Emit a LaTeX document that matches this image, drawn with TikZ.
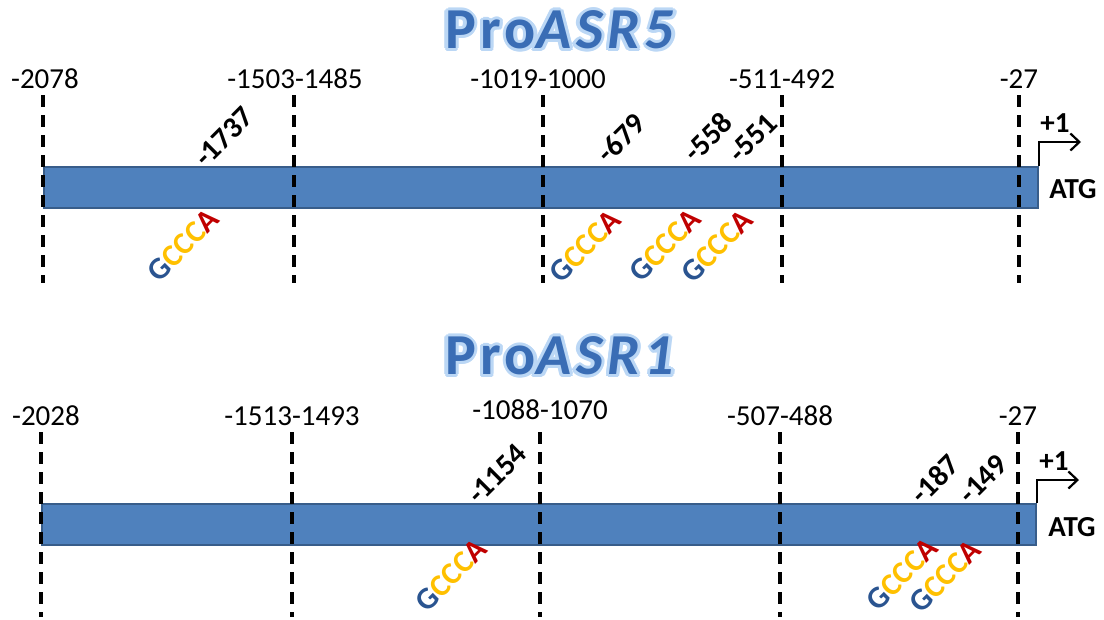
\documentclass[tikz,border=0pt]{standalone}
\usepackage{fontspec}
\setmainfont{Carlito}
\usetikzlibrary{arrows.meta,calc}
\definecolor{barfill}{HTML}{4F81BD}
\definecolor{barline}{HTML}{385D8A}
\definecolor{gblue}{HTML}{2A5490}
\definecolor{cyel}{HTML}{FFC000}
\definecolor{ared}{HTML}{C00000}
\definecolor{titleblue}{HTML}{3A6DB5}
\definecolor{glowblue}{HTML}{BBD7F5}
\newcommand{\gccca}{\textcolor{gblue}{G}\textcolor{cyel}{CCC}\textcolor{ared}{A}}
\newcommand{\titletext}[1]{\fontsize{58}{62}\selectfont\bfseries\addfontfeatures{LetterSpace=8}Pro\textit{#1}}
\tikzset{
  bar/.style={draw=barline, fill=barfill, line width=2pt},
  dashline/.style={line width=3.2pt, dash pattern=on 12pt off 8pt},
  poslabel/.style={font=\fontsize{29}{31}\selectfont, inner sep=0pt},
  site/.style={font=\fontsize{30}{32}\selectfont\bfseries, rotate=45, inner sep=0pt},
  motif/.style={font=\fontsize{31}{33}\selectfont\bfseries, rotate=45, inner sep=0pt},
  bold24/.style={font=\fontsize{29}{31}\selectfont\bfseries, inner sep=0pt},
  glow/.style={text=glowblue, inner sep=0pt},
  tss/.style={line width=2.2pt, -{Straight Barb[length=9pt,width=17pt,line width=2.2pt]}},
}
\begin{document}
\begin{tikzpicture}[x=1pt,y=-1pt]
\useasboundingbox (0,0) rectangle (1104,619);

% ---------- ProASR5 ----------
\foreach \a in {0,30,...,330}{
  \node[glow] at ($(562,30)+(\a:3.2)$) {\titletext{ASR5}};
}
\node[text=titleblue, inner sep=0pt] (t1) at (562,30) {\titletext{ASR5}};

\node[bar, minimum width=994pt, minimum height=41pt, inner sep=0pt, anchor=north west] (bar1) at (43,166) {};

\foreach \x/\n in {43/a,294/b,543/c,782/d,1019/e}{
  \coordinate (u\n1) at (\x,95);
  \coordinate (u\n2) at (\x,283);
  \draw[dashline] (u\n1) -- (u\n2);
}
\node[poslabel] (l1a) at (45,79) {-2078};
\node[poslabel] (l1b) at (295,79) {-1503-1485};
\node[poslabel] (l1c) at (538,79) {-1019-1000};
\node[poslabel] (l1d) at (782,79) {-511-492};
\node[poslabel] (l1e) at (1019,79) {-27};

\node[site] (s1a) at (224,137) {-1737};
\node[site] (s1b) at (621,138) {-679};
\node[site] (s1c) at (708,137) {-558};
\node[site] (s1d) at (753,138) {-551};

\node[motif] (m1a) at (183,245) {\gccca};
\node[motif] (m1b) at (585,246) {\gccca};
\node[motif] (m1c) at (665,245) {\gccca};
\node[motif] (m1d) at (717,246) {\gccca};

\coordinate (k1) at (1081,142);
\draw[tss] (bar1.north east) |- (k1);
\node[bold24] (p1) at (1055,123) {+1};
\node[bold24] (atg1) at (1073,189) {ATG};

% ---------- ProASR1 ----------
\foreach \a in {0,30,...,330}{
  \node[glow] at ($(562,356)+(\a:3.2)$) {\titletext{ASR1}};
}
\node[text=titleblue, inner sep=0pt] (t2) at (562,356) {\titletext{ASR1}};

\node[bar, minimum width=994pt, minimum height=41pt, inner sep=0pt, anchor=north west] (bar2) at (41,503) {};

\foreach \x/\n in {41/a,292/b,540/c,780/d,1018/e}{
  \coordinate (w\n1) at (\x,432);
  \coordinate (w\n2) at (\x,617);
  \draw[dashline] (w\n1) -- (w\n2);
}
\node[poslabel] (l2a) at (46,416) {-2028};
\node[poslabel] (l2b) at (292,416) {-1513-1493};
\node[poslabel] (l2c) at (540,410) {-1088-1070};
\node[poslabel] (l2d) at (780,416) {-507-488};
\node[poslabel] (l2e) at (1018,416) {-27};

\node[site] (s2a) at (497,474) {-1154};
\node[site] (s2b) at (935,479) {-187};
\node[site] (s2c) at (983,479) {-149};

\node[motif] (m2a) at (451,575) {\gccca};
\node[motif] (m2b) at (902,574) {\gccca};
\node[motif] (m2c) at (945,576) {\gccca};

\coordinate (k2) at (1079,480);
\draw[tss] (bar2.north east) |- (k2);
\node[bold24] (p2) at (1054,461) {+1};
\node[bold24] (atg2) at (1072,527) {ATG};
\end{tikzpicture}
\end{document}
